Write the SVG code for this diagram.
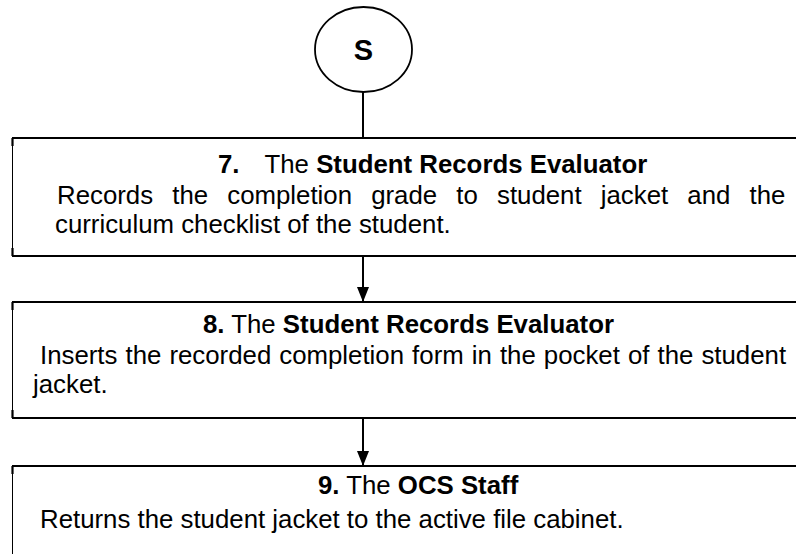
<svg xmlns="http://www.w3.org/2000/svg" width="796" height="554" viewBox="0 0 796 554">
  <defs>
    <marker id="arrow" markerWidth="16" markerHeight="12" refX="15" refY="6" orient="auto" markerUnits="userSpaceOnUse">
      <path d="M0,0 L15,6 L0,12 Z" fill="#000"/>
    </marker>
    <style>
      .t { font-family: "Liberation Sans", Arial, sans-serif; font-size: 25.8px; fill: #000; }
      .b { font-weight: bold; }
      .edge { stroke: #000; stroke-width: 2; fill: none; }
      .side { stroke: #000; stroke-width: 1; fill: none; }
      .tick { stroke: #000; stroke-width: 2.2; fill: none; }
      .conn { stroke: #000; stroke-width: 2; fill: none; }
    </style>
  </defs>
  <rect width="796" height="554" fill="#fff"/>

  <!-- start terminator -->
  <g id="start">
    <ellipse cx="363.5" cy="49.5" rx="48.5" ry="42.5" fill="#fff" stroke="#000" stroke-width="1.8"/>
    <text x="363.5" y="60" text-anchor="middle" class="t b" style="font-size:29px">S</text>
  </g>

  <!-- connectors -->
  <g id="connectors">
    <line class="conn" x1="363" y1="92" x2="363" y2="138"/>
    <line class="conn" x1="363" y1="256" x2="363" y2="302" marker-end="url(#arrow)"/>
    <line class="conn" x1="363" y1="418" x2="363" y2="466" marker-end="url(#arrow)"/>
  </g>

  <!-- step 7 -->
  <g id="step7">
    <line class="edge" x1="12" y1="138" x2="796" y2="138"/>
    <line class="edge" x1="12" y1="256" x2="796" y2="256"/>
    <line class="side" x1="12.5" y1="138" x2="12.5" y2="256"/>
    <line class="tick" x1="12.5" y1="138" x2="12.5" y2="146"/>
    <line class="tick" x1="12.5" y1="248" x2="12.5" y2="256"/>
    <text class="t b" x="218" y="173">7.</text>
    <text class="t" x="264.5" y="173">The <tspan class="b">Student Records Evaluator</tspan></text>
    <text class="t" x="57" y="204" word-spacing="12">Records the completion grade to student jacket and the</text>
    <text class="t" x="55" y="233">curriculum checklist of the student.</text>
  </g>

  <!-- step 8 -->
  <g id="step8">
    <line class="edge" x1="12" y1="302" x2="796" y2="302"/>
    <line class="edge" x1="12" y1="418" x2="796" y2="418"/>
    <line class="side" x1="12.5" y1="302" x2="12.5" y2="418"/>
    <line class="tick" x1="12.5" y1="302" x2="12.5" y2="310"/>
    <line class="tick" x1="12.5" y1="410" x2="12.5" y2="418"/>
    <text class="t" x="203" y="333"><tspan class="b">8.</tspan> The <tspan class="b">Student Records Evaluator</tspan></text>
    <text class="t" x="40" y="364" word-spacing="0.9">Inserts the recorded completion form in the pocket of the student</text>
    <text class="t" x="33" y="393">jacket.</text>
  </g>

  <!-- step 9 -->
  <g id="step9">
    <line class="edge" x1="12" y1="466" x2="796" y2="466"/>
    <line class="side" x1="12.5" y1="466" x2="12.5" y2="554"/>
    <line class="tick" x1="12.5" y1="466" x2="12.5" y2="474"/>
    <text class="t" x="318" y="494"><tspan class="b">9.</tspan> The <tspan class="b">OCS Staff</tspan></text>
    <text class="t" x="40" y="528">Returns the student jacket to the active file cabinet.</text>
  </g>
</svg>
